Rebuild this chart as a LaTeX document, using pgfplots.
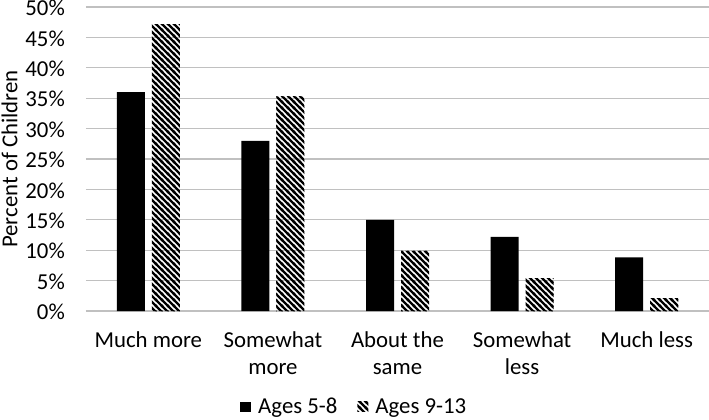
\documentclass[border=0pt]{standalone}
\usepackage{fontspec}
\setmainfont{Carlito}
\usepackage{pgfplots}
\pgfplotsset{compat=1.18}
\usetikzlibrary{patterns}
\pgfdeclarepatternformonly{thicknw}{\pgfqpoint{-1bp}{-1bp}}{\pgfqpoint{7bp}{7bp}}{\pgfqpoint{6bp}{6bp}}{%
  \pgfsetlinewidth{2.2bp}%
  \pgfpathmoveto{\pgfqpoint{-0.3bp}{6.3bp}}\pgfpathlineto{\pgfqpoint{6.3bp}{-0.3bp}}%
  \pgfpathmoveto{\pgfqpoint{-1bp}{1bp}}\pgfpathlineto{\pgfqpoint{1bp}{-1bp}}%
  \pgfpathmoveto{\pgfqpoint{5bp}{7bp}}\pgfpathlineto{\pgfqpoint{7bp}{5bp}}%
  \pgfusepath{stroke}}
\definecolor{gridgray}{HTML}{C0C0C0}
\begin{document}
\begin{tikzpicture}[font=\fontsize{22.8bp}{27bp}\selectfont]
\begin{axis}[
  name=ax,
  width=623bp, height=304bp, scale only axis,
  xmin=-0.5, xmax=4.5, ymin=0, ymax=50,
  ybar=7bp, bar width=28bp,
  xtick={0,1,2,3,4},
  xticklabels={\strut Much more, \strut Somewhat\\more, \strut About the\\same, \strut Somewhat\\less, \strut Much less},
  xticklabel style={align=center, anchor=north, inner sep=0pt, yshift=-17bp},
  ytick={0,5,...,50},
  yticklabel={\pgfmathprintnumber{\tick}\%},
  yticklabel style={anchor=east, inner sep=0pt, xshift=-21bp, yshift=-1bp},
  /pgf/number format/assume math mode=true,
  major tick length=0pt,
  ymajorgrids, grid style={gridgray, line width=1.3bp},
  axis lines*=left,
  y axis line style={draw=none},
  x axis line style={gridgray, line width=1.3bp},
  ylabel={Percent of Children},
  ylabel style={at={([xshift=-68.5bp]axis description cs:0,0.5)}, anchor=base, inner sep=0pt},
  legend style={draw=none, at={(0.429,-0.315)}, anchor=center, legend columns=-1,
    nodes={inner sep=0pt},
    /tikz/every odd column/.append style={column sep=7bp},
    /tikz/every even column/.append style={column sep=20bp}},
  legend image code/.code={\draw[#1, draw=none] (0bp,-5.2bp) rectangle (11bp,5.2bp);},
]
\addplot[fill=black, draw=none] coordinates {(0,36) (1,28) (2,15) (3,12.2) (4,8.8)};
\addplot[draw=none, pattern=thicknw, pattern color=black] coordinates {(0,47.2) (1,35.3) (2,9.9) (3,5.4) (4,2.1)};
\legend{Ages 5-8, Ages 9-13}
\end{axis}
\pgfresetboundingbox
\path ([xshift=-86bp,yshift=-109bp]ax.south west) rectangle ([yshift=7bp]ax.north east);
\end{tikzpicture}
\end{document}
